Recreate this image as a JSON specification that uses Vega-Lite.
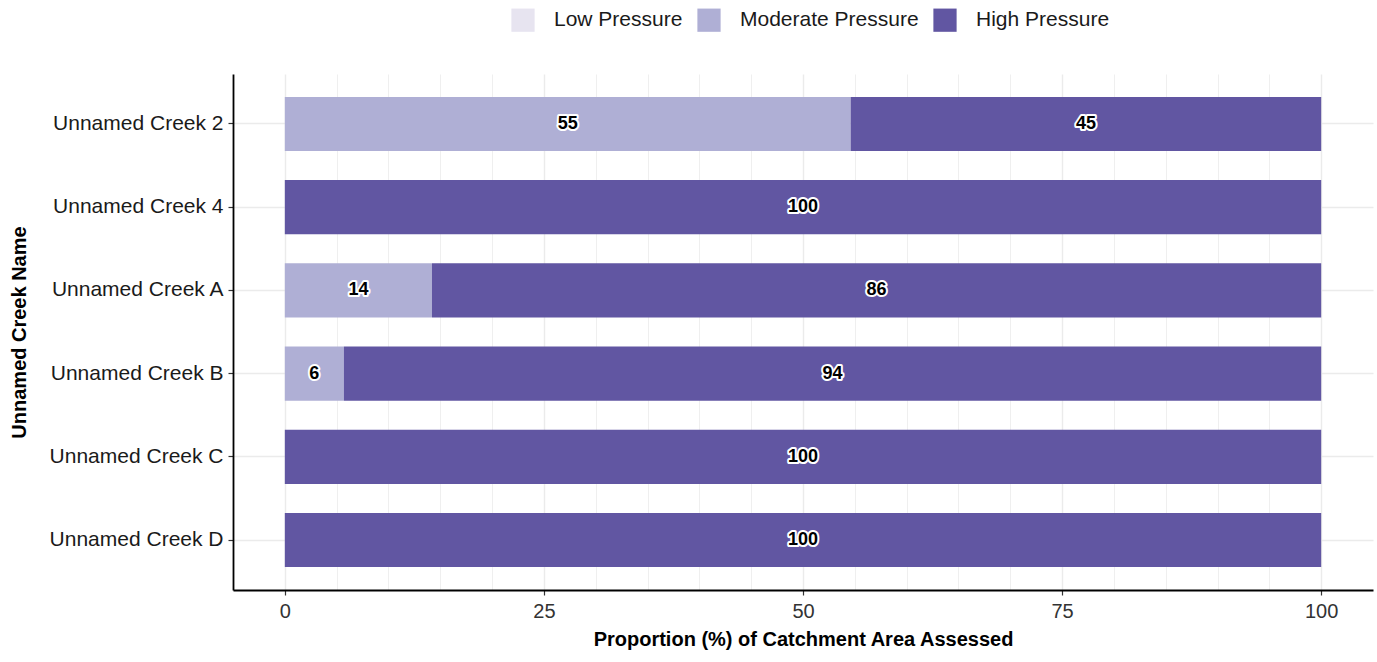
{
  "$schema": "https://vega.github.io/schema/vega-lite/v6.json",
  "autosize": "none",
  "width": 1140,
  "height": 516,
  "padding": {"left": 233, "top": 74, "right": 4, "bottom": 72},
  "background": "white",
  "config": {
    "font": "Liberation Sans",
    "view": {"stroke": null},
    "axis": {"labelFont": "Liberation Sans", "titleFont": "Liberation Sans"}
  },
  "data": {
    "values": [
      {"creek": "Unnamed Creek 2", "pressure": "Moderate Pressure", "value": 54.6, "ord": 2},
      {"creek": "Unnamed Creek 2", "pressure": "High Pressure", "value": 45.4, "ord": 3},
      {"creek": "Unnamed Creek 4", "pressure": "High Pressure", "value": 100, "ord": 3},
      {"creek": "Unnamed Creek A", "pressure": "Moderate Pressure", "value": 14.2, "ord": 2},
      {"creek": "Unnamed Creek A", "pressure": "High Pressure", "value": 85.8, "ord": 3},
      {"creek": "Unnamed Creek B", "pressure": "Moderate Pressure", "value": 5.7, "ord": 2},
      {"creek": "Unnamed Creek B", "pressure": "High Pressure", "value": 94.3, "ord": 3},
      {"creek": "Unnamed Creek C", "pressure": "High Pressure", "value": 100, "ord": 3},
      {"creek": "Unnamed Creek D", "pressure": "High Pressure", "value": 100, "ord": 3}
    ]
  },
  "transform": [
    {"stack": "value", "groupby": ["creek"], "sort": [{"field": "ord", "order": "ascending"}], "as": ["x0", "x1"]},
    {"calculate": "(datum.x0 + datum.x1) / 2", "as": "mid"}
  ],
  "encoding": {
    "y": {
      "field": "creek",
      "type": "nominal",
      "sort": ["Unnamed Creek 2", "Unnamed Creek 4", "Unnamed Creek A", "Unnamed Creek B", "Unnamed Creek C", "Unnamed Creek D"],
      "scale": {"paddingInner": 0.35, "paddingOuter": 0.275},
      "axis": {
        "title": "Unnamed Creek Name",
        "titleFontSize": 20,
        "titleFontWeight": "bold",
        "titleColor": "black",
        "titlePadding": 20,
        "labelFontSize": 21,
        "labelColor": "#1a1a1a",
        "labelPadding": 5,
        "tickSize": 5,
        "tickColor": "#333333",
        "tickWidth": 1.2,
        "domainColor": "black",
        "domainWidth": 1.8,
        "grid": true,
        "gridColor": "#ebebeb",
        "gridWidth": 1.3,
        "bandPosition": 0.5
      }
    }
  },
  "layer": [
    {
      "mark": {"type": "bar", "stroke": null},
      "encoding": {
        "x": {
          "field": "x0",
          "type": "quantitative",
          "title": "Proportion (%) of Catchment Area Assessed",
          "scale": {"domain": [-5, 105], "nice": false, "zero": false},
          "axis": {
            "values": [0, 5, 10, 15, 20, 25, 30, 35, 40, 45, 50, 55, 60, 65, 70, 75, 80, 85, 90, 95, 100],
            "labelExpr": "datum.value % 25 === 0 ? datum.label : ''",
            "grid": true,
            "gridColor": "#ebebeb",
            "gridWidth": {"condition": {"test": "datum.value % 25 === 0", "value": 1.4}, "value": 0.8},
            "tickOpacity": {"condition": {"test": "datum.value % 25 === 0", "value": 1}, "value": 0},
            "title": "Proportion (%) of Catchment Area Assessed",
            "titleFontSize": 20,
            "titleFontWeight": "bold",
            "titleColor": "black",
            "titlePadding": 8,
            "labelFontSize": 20,
            "labelColor": "#333333",
            "labelPadding": 6,
            "labelFlush": false,
            "labelOverlap": false,
            "tickSize": 5,
            "tickColor": "#333333",
            "tickWidth": 1.2,
            "domainColor": "black",
            "domainWidth": 1.8
          }
        },
        "x2": {"field": "x1"},
        "color": {
          "field": "pressure",
          "type": "nominal",
          "scale": {
            "domain": ["Low Pressure", "Moderate Pressure", "High Pressure"],
            "range": ["#e7e4f0", "#afafd5", "#6156a2"]
          },
          "legend": {
            "title": null,
            "orient": "none",
            "direction": "horizontal",
            "legendX": 278,
            "legendY": -66,
            "symbolType": "square",
            "symbolSize": 540,
            "symbolStrokeWidth": 0,
            "symbolOpacity": 1,
            "labelFontSize": 21,
            "labelLimit": 400,
            "labelColor": "#1a1a1a",
            "labelOffset": 19,
            "columnPadding": 14
          }
        }
      }
    },
    {
      "mark": {"type": "text", "fontWeight": "bold", "fontSize": 18, "stroke": "white", "strokeWidth": 4, "strokeJoin": "round", "color": "white"},
      "encoding": {
        "x": {"field": "mid", "type": "quantitative", "title": "Proportion (%) of Catchment Area Assessed"},
        "text": {"field": "value", "type": "quantitative", "format": ".0f"}
      }
    },
    {
      "mark": {"type": "text", "fontWeight": "bold", "fontSize": 18, "color": "black"},
      "encoding": {
        "x": {"field": "mid", "type": "quantitative", "title": "Proportion (%) of Catchment Area Assessed"},
        "text": {"field": "value", "type": "quantitative", "format": ".0f"}
      }
    }
  ]
}
